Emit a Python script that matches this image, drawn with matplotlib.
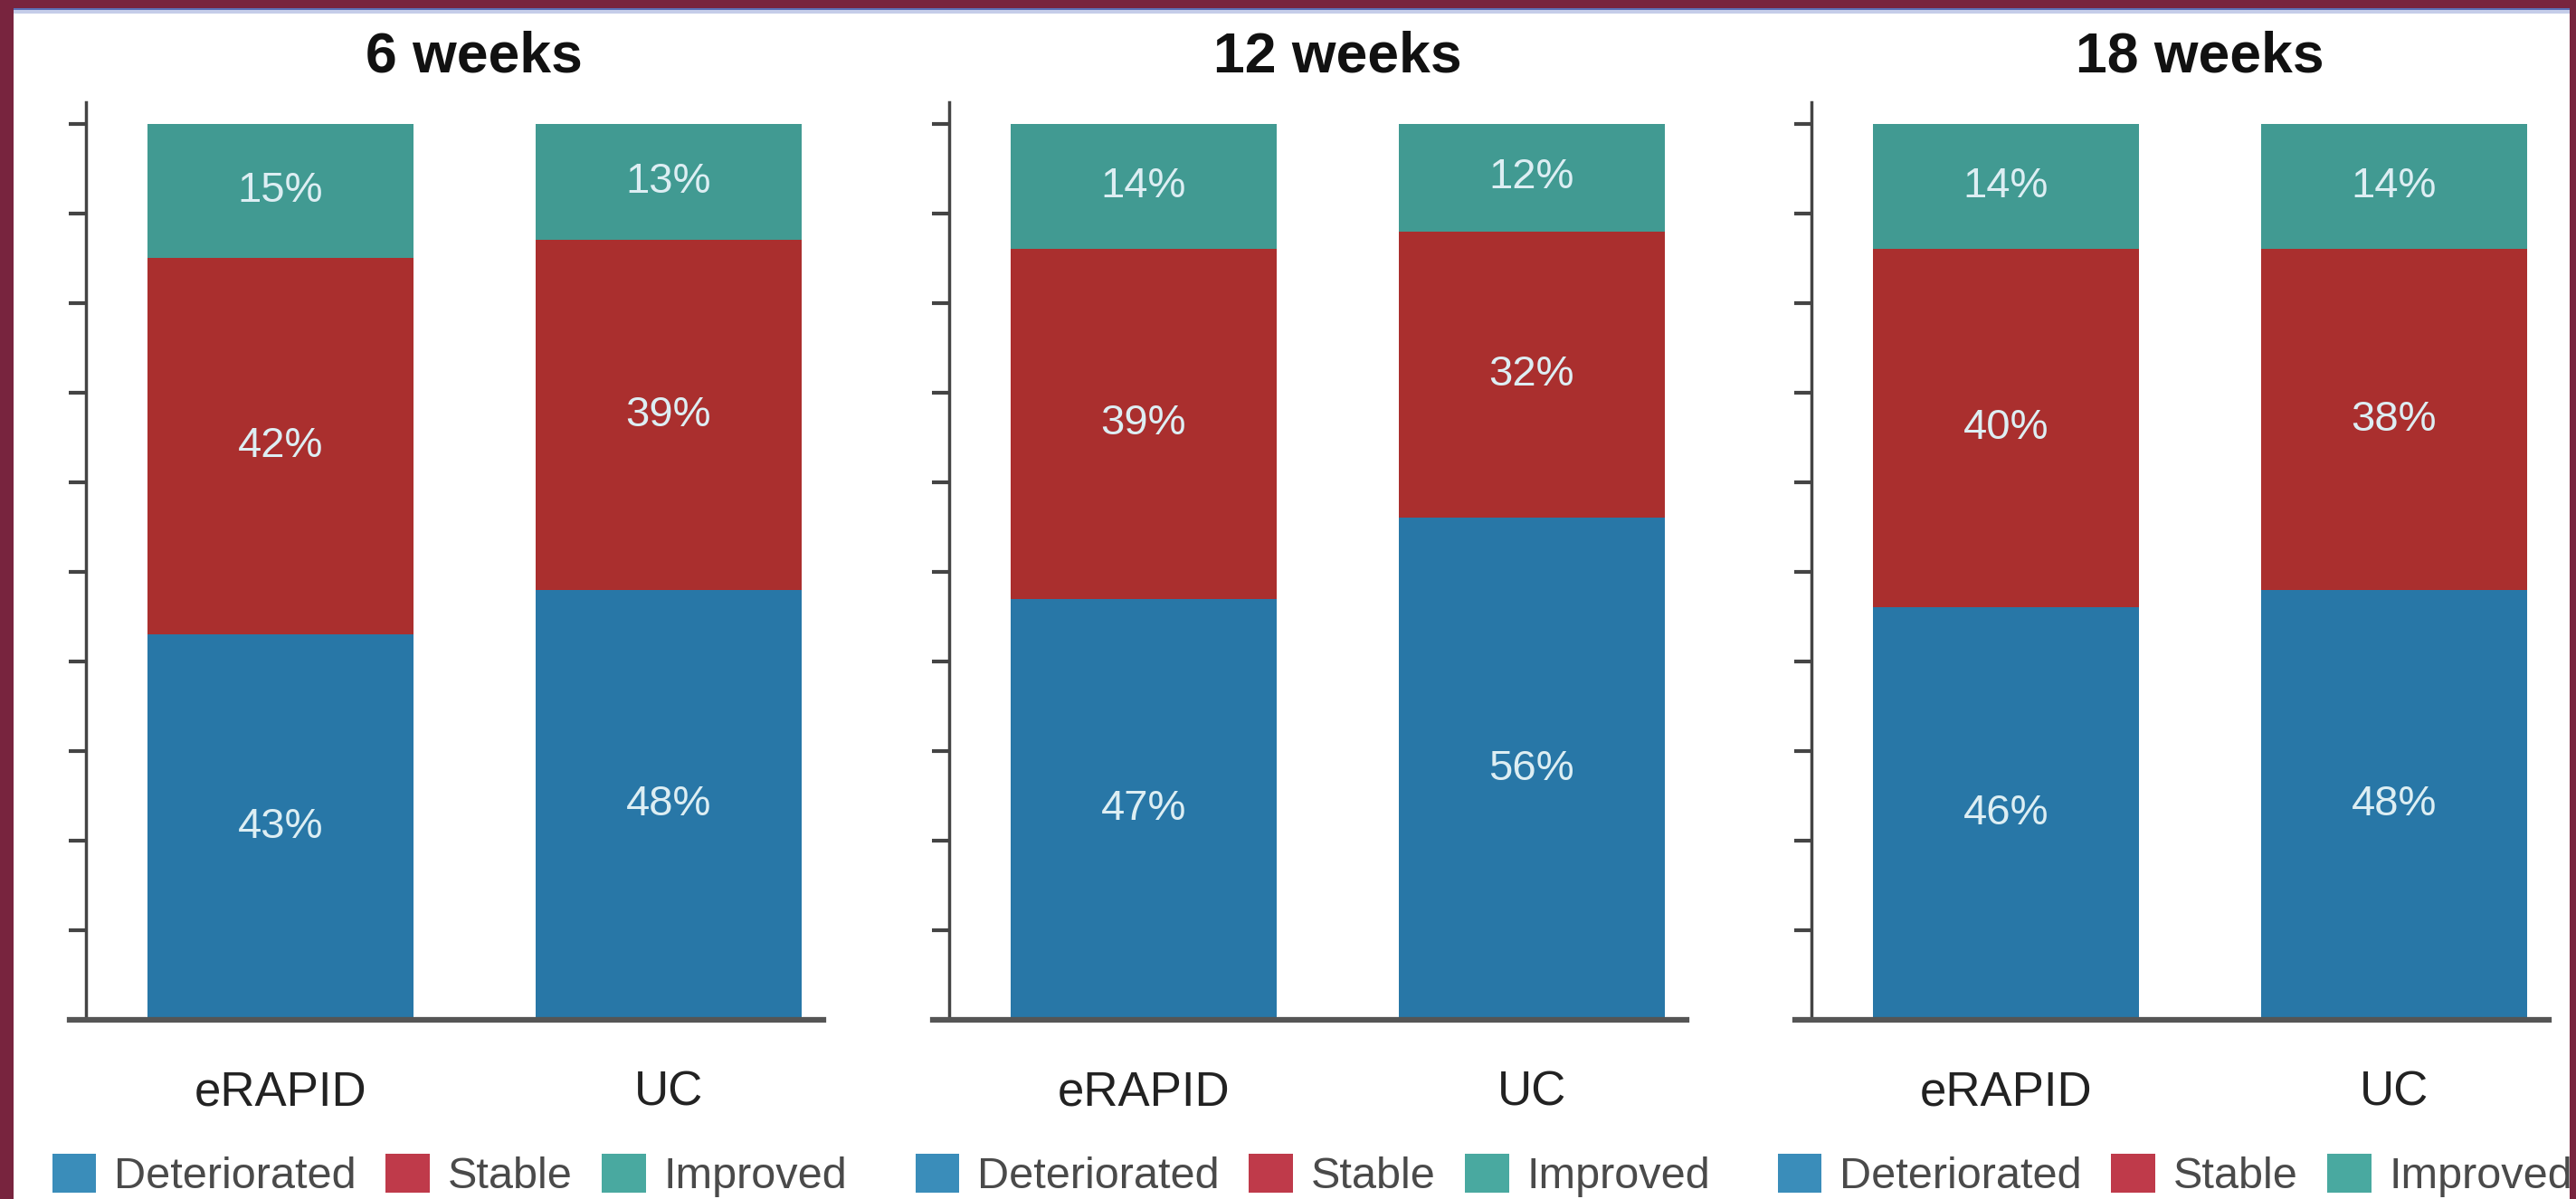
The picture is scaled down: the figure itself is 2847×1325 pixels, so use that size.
import matplotlib
matplotlib.use("Agg")
import matplotlib.pyplot as plt
from matplotlib.patches import Patch, Rectangle
from matplotlib.transforms import blended_transform_factory

# 数据:三个随访时间点,两组(eRAPID / UC)的状态构成(%)
panels = ["6 weeks", "12 weeks", "18 weeks"]
groups = ["eRAPID", "UC"]
deteriorated = [[43, 48], [47, 56], [46, 48]]
stable = [[42, 39], [39, 32], [40, 38]]
improved = [[15, 13], [14, 12], [14, 14]]
series_names = ["Deteriorated", "Stable", "Improved"]

# 颜色
bar_colors = ["#2877A7", "#AA2F2E", "#419A92"]
legend_colors = ["#3A8DBA", "#BF3A4A", "#49A9A0"]
maroon = "#78243E"

W, H = 2847, 1325
fig = plt.figure(figsize=(W / 100, H / 100), dpi=100)
fig.patch.set_facecolor(maroon)

# 白色底板 + 顶部蓝色细线
fig.add_artist(Rectangle((15 / W, 0), (2840 - 15) / W, 1 - 15 / H,
                         transform=fig.transFigure, facecolor="white",
                         edgecolor="none", zorder=-10))
fig.add_artist(Rectangle((15 / W, 1 - 15 / H), (2840 - 15) / W, 4 / H,
                         transform=fig.transFigure, facecolor="#C5CDE9",
                         edgecolor="none", zorder=-10))
fig.add_artist(Rectangle((15 / W, 1 - 11 / H), (2840 - 15) / W, 2 / H,
                         transform=fig.transFigure, facecolor="#5B6FB5",
                         edgecolor="none", zorder=-10))

font = ["Liberation Sans", "DejaVu Sans"]

lefts = [77, 1031, 1984]
x = [0, 1]
for i, title in enumerate(panels):
    ax = fig.add_axes([lefts[i] / W, 1 - 1127 / H, 833 / W, (1127 - 113) / H])
    ax.set_facecolor("none")
    det = deteriorated[i]
    stb = stable[i]
    imp = improved[i]
    bottoms = [0, 0]
    for vals, col in zip([det, stb, imp], bar_colors):
        ax.bar(x, vals, width=0.685, bottom=bottoms, color=col, zorder=2)
        for xi, v, b in zip(x, vals, bottoms):
            ax.text(xi, b + v / 2, f"{v}%", ha="center", va="center",
                    color="#DDEEF3", fontsize=34, family=font, zorder=3)
        bottoms = [b + v for b, v in zip(bottoms, vals)]

    ax.set_xlim(-0.543, 1.399)
    ax.set_ylim(0, 102.4)
    ax.spines["top"].set_visible(False)
    ax.spines["right"].set_visible(False)
    ax.spines["left"].set_position(("data", -0.5))
    ax.spines["left"].set_linewidth(2.5)
    ax.spines["left"].set_color("#444444")
    ax.spines["bottom"].set_linewidth(4.5)
    ax.spines["bottom"].set_color("#555555")
    ax.spines["bottom"].set_zorder(4)

    ax.set_yticks(range(0, 101, 10))
    ax.set_yticklabels([])
    ax.tick_params(axis="y", direction="out", length=14, width=3, color="#444444")
    ax.set_xticks(x)
    ax.set_xticklabels(groups, fontsize=38, family=font, color="#222222")
    ax.tick_params(axis="x", length=0, pad=40)

    tr = blended_transform_factory(ax.transData, fig.transFigure)
    ax.text(0.5, 1 - 63 / H, title, transform=tr, ha="center", va="center",
            fontsize=45, fontweight="bold", family=font, color="#111111")

    handles = [Patch(facecolor=c, edgecolor="none") for c in legend_colors]
    leg = ax.legend(handles, series_names, loc="center",
                    bbox_to_anchor=(0.436, 1 - 1299 / H), bbox_transform=tr,
                    ncol=3, frameon=False, handlelength=1.0, handleheight=1.0,
                    handletextpad=0.4, columnspacing=0.68, borderpad=0,
                    prop={"family": font, "size": 35})
    for t in leg.get_texts():
        t.set_color("#4a4a4a")

fig.savefig("out.png", dpi=100, facecolor=fig.get_facecolor())
